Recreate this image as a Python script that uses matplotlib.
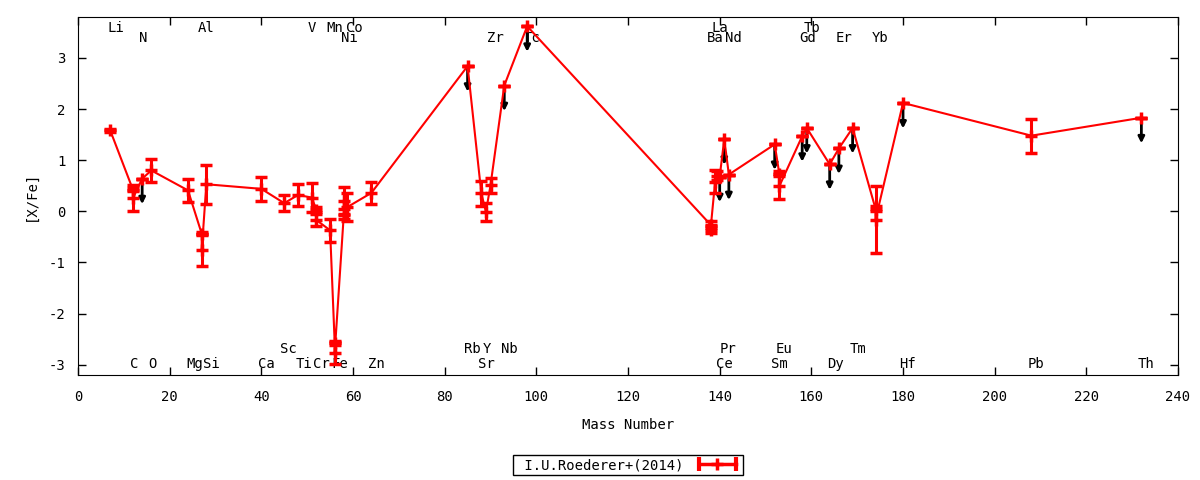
import matplotlib
matplotlib.use('Agg')
import matplotlib.pyplot as plt
from matplotlib.lines import Line2D
from matplotlib.legend_handler import HandlerLine2D

# Roederer+2014 abundance pattern, [X/Fe] vs mass number ([Fe/H] for Fe)
mass = [7, 12, 12, 14, 16, 24, 27, 27, 28, 40, 45, 48, 51, 52, 52, 55, 56, 56,
        58, 58, 58.7, 64, 85, 88, 89, 90, 93, 98,
        138, 138, 139, 139.5, 140, 141, 142, 152, 153, 153, 158, 159, 164, 166,
        169, 174, 174, 180, 208, 232]
xfe = [1.59, 0.42, 0.26, 0.64, 0.80, 0.41, -0.44, -0.76, 0.53, 0.44, 0.16, 0.32,
       0.27, 0.03, -0.17, -0.37, -2.57, -2.77, -0.05, 0.20, 0.08, 0.36,
       2.84, 0.35, -0.01, 0.51, 2.46, 3.62,
       -0.26, -0.36, 0.58, 0.70, 0.68, 1.41, 0.72, 1.31, 0.74, 0.49, 1.47, 1.63,
       0.92, 1.23, 1.63, 0.05, -0.16, 2.12, 1.48, 1.83]
err = [0.03, 0.03, 0.26, 0, 0.22, 0.22, 0.03, 0.31, 0.38, 0.23, 0.15, 0.21,
       0.28, 0.05, 0.12, 0.23, 0.04, 0.22, 0.10, 0.28, 0.27, 0.22,
       0, 0.25, 0.17, 0.15, 0, 0,
       0.07, 0.07, 0.22, 0.08, 0, 0, 0, 0, 0.04, 0.25, 0, 0,
       0, 0, 0, 0.05, 0.65, 0, 0.33, 0]
# upper limits (drawn as arrows)
ul = [0, 0, 0, 1, 0, 0, 0, 0, 0, 0, 0, 0, 0, 0, 0, 0, 0, 0,
      0, 0, 0, 0, 1, 0, 0, 0, 1, 1,
      0, 0, 0, 0, 1, 1, 1, 1, 0, 0, 1, 1, 1, 1,
      1, 0, 0, 1, 0, 1]

# element names, row 1/2 = top, -1/-2 = bottom
names = ['Li', 'N', 'Al', 'V', 'Mn', 'Co', 'Ni', 'Zr', 'Tc', 'La', 'Ba', 'Nd',
         'Tb', 'Gd', 'Er', 'Yb',
         'C', 'O', 'Mg', 'Si', 'Ca', 'Sc', 'Ti', 'Cr', 'Fe', 'Zn', 'Rb', 'Y',
         'Nb', 'Sr', 'Pr', 'Ce', 'Eu', 'Sm', 'Dy', 'Tm', 'Hf', 'Pb', 'Th']
name_x = [8.2, 14.3, 27.9, 51.1, 56.0, 60.2, 59.1, 91.1, 99.0, 140.1, 139.1, 143.0,
          160.2, 159.1, 167.1, 175.0,
          12.3, 16.3, 25.4, 29.0, 41.1, 46.0, 49.3, 53.1, 57.0, 65.1, 86.1, 89.3,
          94.1, 89.1, 141.9, 141.0, 154.1, 153.0, 165.2, 170.2, 180.9, 209.1, 233.1]
name_row = [1, 2, 1, 1, 1, 1, 2, 2, 2, 1, 2, 2, 1, 2, 2, 2,
            -1, -1, -1, -1, -1, -2, -1, -1, -1, -1, -2, -2,
            -2, -1, -2, -1, -2, -1, -1, -2, -1, -1, -1]
row_y = {1: 3.59, 2: 3.39, -1: -2.98, -2: -2.69}

plt.rcParams['font.family'] = ['DejaVu Sans Mono']
plt.rcParams['font.size'] = 10
plt.rcParams['axes.unicode_minus'] = False

fig = plt.figure(figsize=(12, 4.8), dpi=100)
ax = fig.add_axes([0.065, 0.21875, 0.9167, 0.7458])

ax.errorbar(mass, xfe, yerr=err, color='red', lw=1.5, elinewidth=2.2,
            capsize=4, capthick=2.5, marker='+', ms=9, mew=2.5, zorder=3)

for x, y, u in zip(mass, xfe, ul):
    if u:
        ax.annotate('', xy=(x, y - 0.5), xytext=(x, y), zorder=2,
                    arrowprops=dict(arrowstyle='-|>', color='black', lw=2,
                                    mutation_scale=9, shrinkA=0, shrinkB=0))

for n, x, r in zip(names, name_x, name_row):
    ax.text(x, row_y[r], n, ha='center', va='center', zorder=1)

ax.set_xlim(0, 240)
ax.set_ylim(-3.2, 3.8)
ax.set_xticks(range(0, 241, 20))
ax.set_yticks(range(-3, 4))
ax.tick_params(direction='in', top=True, right=True, length=6, width=1)
ax.tick_params(axis='x', pad=11)
ax.tick_params(axis='y', pad=9)

ax.set_xlabel('Mass Number')
ax.xaxis.set_label_coords(0.5, -0.12)
ax.set_ylabel('[X/Fe]')
ax.yaxis.set_label_coords(-0.037, 0.5)

caps = Line2D([], [], color='red', lw=2.5, marker='|', ms=10, mew=3)
plus = Line2D([], [], color='red', lw=0, marker='+', ms=9, mew=2.5)
leg = ax.legend(handles=[(caps, plus)], labels=[' I.U.Roederer+(2014)'],
                handler_map={caps: HandlerLine2D(numpoints=2),
                             plus: HandlerLine2D(numpoints=1)},
                loc='center', bbox_to_anchor=(0.5233, 0.031),
                bbox_transform=fig.transFigure, markerfirst=False,
                fancybox=False, edgecolor='black', framealpha=1,
                handlelength=3.3, borderpad=0.2)
leg.get_frame().set_linewidth(1)

fig.savefig('out.png', dpi=100)
